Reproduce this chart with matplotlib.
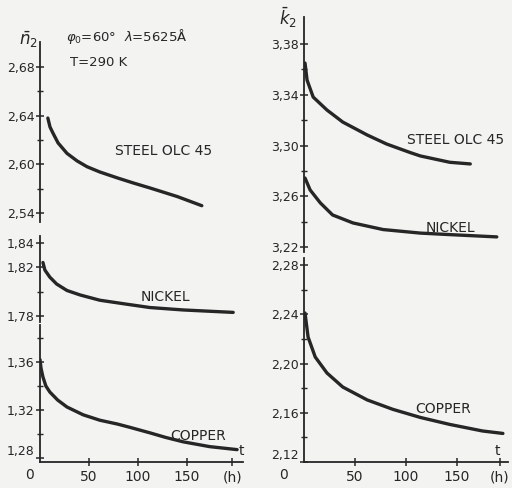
import matplotlib
matplotlib.use('Agg')
import matplotlib.pyplot as plt
from matplotlib import transforms

# Time (h) and values
# left panel: n2
steel_n_t = [8, 10.2, 13, 18.4, 27.5, 37.8, 48, 61, 79, 95, 112, 140, 165]
steel_n = [2.638, 2.6307, 2.626, 2.6176, 2.609, 2.6028, 2.598, 2.5937, 2.5888, 2.5847,
           2.5806, 2.5735, 2.566]
nickel_n_t = [3, 5, 10, 17, 27.5, 41, 61, 87, 112, 146, 197]
nickel_n = [1.824, 1.8178, 1.812, 1.8063, 1.801, 1.7973, 1.793, 1.7899, 1.787, 1.785, 1.783]
copper_n_t = [0, 1, 3, 6, 10, 18, 27.5, 44, 61, 79, 92, 112, 128, 146, 173, 201]
copper_n = [1.362, 1.355, 1.3475, 1.34, 1.335, 1.3283, 1.3225, 1.316, 1.3115, 1.3083, 1.3055,
            1.301, 1.2972, 1.2935, 1.2895, 1.287]

# right panel: k2
steel_k_t = [1, 3, 9, 22.5, 38, 62, 81, 104, 114, 143, 163]
steel_k = [3.365, 3.3516, 3.3382, 3.328, 3.3185, 3.3083, 3.3012, 3.2945, 3.2918, 3.2868, 3.2855]
nickel_k_t = [1, 6, 16, 28, 48, 77.5, 114, 143, 189]
nickel_k = [3.2744, 3.265, 3.2548, 3.2453, 3.239, 3.2338, 3.231, 3.2298, 3.228]
copper_k_t = [1, 4, 11, 22.5, 38, 62, 87, 114, 143, 175, 195]
copper_k = [2.241, 2.2215, 2.2053, 2.1923, 2.1809, 2.1704, 2.1628, 2.1562, 2.1505, 2.1452,
            2.1432]

x_ticks = [50, 100, 150]
x_labels = ['50', '100', '150']

W, H = 512, 488
INK = '#262626'
BG = '#f3f3f1'

plt.rcParams['font.family'] = 'DejaVu Sans'
fig = plt.figure(figsize=(W / 100, H / 100), dpi=100, facecolor=BG)


def px_axes(x0, x1, y0, y1):
    # axes placed by pixel box (top-left origin)
    ax = fig.add_axes([x0 / W, 1 - y1 / H, (x1 - x0) / W, (y1 - y0) / H])
    ax.patch.set_alpha(0)
    for s in ['top', 'right']:
        ax.spines[s].set_visible(False)
    ax.spines['left'].set_color(INK)
    ax.spines['left'].set_linewidth(1.3)
    ax.spines['bottom'].set_color(INK)
    ax.spines['bottom'].set_linewidth(1.3)
    ax.tick_params(axis='both', which='major', direction='inout', length=6,
                   width=1.1, colors=INK, labelsize=9, pad=1)
    ax.tick_params(axis='both', which='minor', direction='inout', length=4,
                   width=1.0, colors=INK)
    return ax


def set_y(ax, lim, major, labels, minor):
    ax.set_ylim(*lim)
    ax.set_yticks(major)
    ax.set_yticklabels(labels)
    ax.set_yticks(minor, minor=True)


def no_x(ax, xmax):
    ax.set_xlim(0, xmax)
    ax.spines['bottom'].set_visible(False)
    ax.set_xticks([])


def x_axis(ax, xmax, end_tick, zero_x, t_x):
    ax.set_xlim(0, xmax)
    ax.set_xticks(x_ticks + [end_tick])
    ax.set_xticklabels(x_labels + ['(h)'], fontsize=10)
    ax.tick_params(axis='x', pad=3)
    tr = transforms.offset_copy(ax.get_xaxis_transform(), fig=fig, y=-6, units='dots')
    ax.text(zero_x, 0, '0', transform=tr, ha='center', va='top', fontsize=10, color=INK)
    tr2 = transforms.offset_copy(ax.get_xaxis_transform(), fig=fig, y=4, units='dots')
    ax.text(t_x, 0, 't', transform=tr2, ha='center', va='bottom', fontsize=10, color=INK,
            clip_on=False)
    # lowest y label sits just above the time axis
    ax.get_yticklabels()[-1].set_va('bottom')


lw = 2.4
style = dict(color=INK, lw=lw, solid_capstyle='round', solid_joinstyle='round')

# ---- left panel (n2)
ax1 = px_axes(40, 243, 42, 222)
no_x(ax1, 207)
set_y(ax1, (2.5526, 2.7005), [2.68, 2.64, 2.60, 2.56], ['2,68', '2,64', '2,60', '2,54'],
      [2.66, 2.62, 2.58])
ax1.plot(steel_n_t, steel_n, **style)
ax1.text(126, 2.611, 'STEEL OLC 45', ha='center', va='center', fontsize=10, color=INK)

ax2 = px_axes(40, 243, 236, 322)
no_x(ax2, 207)
set_y(ax2, (1.7751, 1.8458), [1.84, 1.82, 1.78], ['1,84', '1,82', '1,78'], [1.80])
ax2.plot(nickel_n_t, nickel_n, **style)
ax2.text(128, 1.7958, 'NICKEL', ha='center', va='center', fontsize=10, color=INK)

ax3 = px_axes(40, 243, 325, 462)
set_y(ax3, (1.2767, 1.3908), [1.36, 1.32, 1.28], ['1,36', '1,32', '1,28'],
      [1.38, 1.34, 1.30])
x_axis(ax3, 207, 196, -11, 205)
ax3.plot(copper_n_t, copper_n, **style)
ax3.text(161, 1.298, 'COPPER', ha='center', va='center', fontsize=10, color=INK)

# ---- right panel (k2)
ax4 = px_axes(304, 508, 17, 252)
no_x(ax4, 200)
set_y(ax4, (3.2161, 3.4013), [3.38, 3.34, 3.30, 3.26, 3.22],
      ['3,38', '3,34', '3,30', '3,26', '3,22'], [3.36, 3.32, 3.28, 3.24])
ax4.plot(steel_k_t, steel_k, **style)
ax4.plot(nickel_k_t, nickel_k, **style)
ax4.text(149, 3.3041, 'STEEL OLC 45', ha='center', va='center', fontsize=10, color=INK,
         clip_on=False)
ax4.text(144, 3.2353, 'NICKEL', ha='center', va='center', fontsize=10, color=INK)

ax5 = px_axes(304, 508, 258, 462)
set_y(ax5, (2.12, 2.2857), [2.28, 2.24, 2.20, 2.16, 2.12],
      ['2,28', '2,24', '2,20', '2,16', '2,12'], [2.26, 2.22, 2.18, 2.14])
x_axis(ax5, 200, 192, -20, 190)
ax5.plot(copper_k_t, copper_k, **style)
ax5.text(136, 2.1634, 'COPPER', ha='center', va='center', fontsize=10, color=INK)

# axis titles and conditions
fig.text(28 / W, 1 - 40 / H, r'$\bar{n}_2$', ha='center', va='center', fontsize=12, color=INK)
fig.text(288 / W, 1 - 18 / H, r'$\bar{k}_2$', ha='center', va='center', fontsize=12, color=INK)
fig.text(66 / W, 1 - 36 / H, r'$\varphi_0$=60°  $\lambda$=5625Å', ha='left', va='center',
         fontsize=9.5, color=INK)
fig.text(70 / W, 1 - 63 / H, 'T=290 K', ha='left', va='center', fontsize=9.5, color=INK)

fig.savefig('out.png', dpi=100, facecolor=BG)
